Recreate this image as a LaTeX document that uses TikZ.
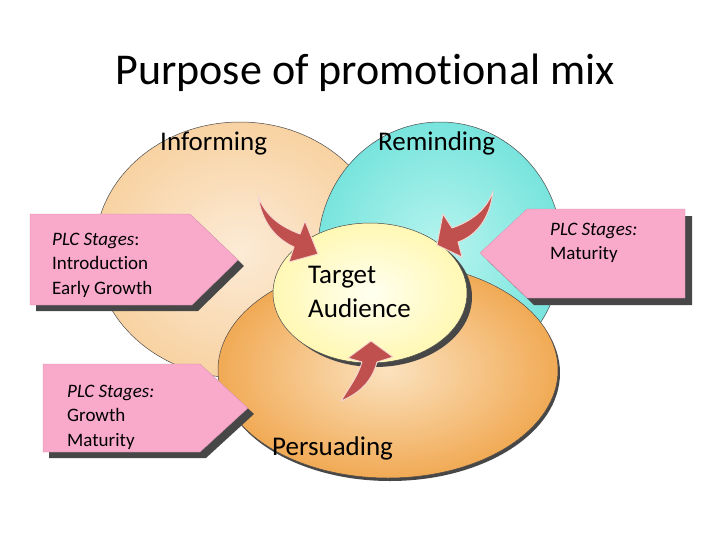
\documentclass[tikz,border=0pt]{standalone}
\usepackage{fontspec}
\setmainfont{Carlito}[RawFeature={-liga;-calt;-dlig}]
\usetikzlibrary{shapes.geometric}
\definecolor{peachin}{HTML}{FCEBD6}
\definecolor{peachout}{HTML}{F8D2A2}
\definecolor{cyanin}{HTML}{B8F4EF}
\definecolor{cyanout}{HTML}{78E4DD}
\definecolor{orangein}{HTML}{FBE2BF}
\definecolor{orangeout}{HTML}{F1AA55}
\definecolor{yellowin}{HTML}{FFFFF0}
\definecolor{yellowout}{HTML}{FFF8B4}
\definecolor{boxpink}{HTML}{F9A9CA}
\definecolor{arrowred}{HTML}{C0504D}
\definecolor{arrowedge}{HTML}{F6D8D2}
\begin{document}
\begin{tikzpicture}[x=1pt,y=-1pt]
\tikzset{
  ell/.style={ellipse, draw=black!70, line width=0.5pt, inner sep=0pt},
  ellshadow/.style={ellipse, fill=black!72, draw=none, inner sep=0pt},
  pinkbox/.style={fill=boxpink, draw=boxpink!85!black, line width=0.3pt},
  boxshadow/.style={fill=black!72, draw=none},
  redarrow/.style={fill=arrowred, draw=arrowedge, line width=0.9pt, line join=round},
  lbl/.style={font=\fontsize{27}{34}\selectfont, inner sep=0pt, anchor=base west},
  boxtxt/.style={font=\fontsize{19}{24.5}\selectfont, align=left, inner sep=0pt, anchor=north west},
}
\useasboundingbox (0,0) rectangle (728,546);
\fill[white] (0,0) rectangle (728,546);

% title
\node[font=\fontsize{44}{52}\selectfont, anchor=base, inner sep=0pt] (title) at (365,84) {Purpose of promot\kern0pt ional mix};

% ellipses
\node[ell, minimum width=290, minimum height=256, shade, inner color=peachin, outer color=peachout] (inform) at (240,250) {};
\node[ell, minimum width=244, minimum height=256, shade, inner color=cyanin, outer color=cyanout] (remind) at (440,250) {};
\node[ellshadow, minimum width=340, minimum height=216] (persshadow) at (390,373) {};
\node[ell, minimum width=340, minimum height=216, shade, inner color=orangein, outer color=orangeout] (persuade) at (388,370) {};
\node[ellshadow, minimum width=194, minimum height=140] (targshadow) at (375,297) {};
\node[ell, minimum width=194, minimum height=140, shade, inner color=yellowin, outer color=yellowout] (target) at (370,293) {};

% labels
\node[lbl] (linform) at (160,150) {Informing};
\node[lbl] (lremind) at (378,150) {Reminding};
\node[lbl] (lpers) at (272,455) {Persuading};
\node[lbl, align=left, anchor=north west] (ltarget) at (308,265.6) {Target\\Audience};

% red curved arrows
\path[redarrow] (258,196) .. controls (262,222) and (275,238) .. (294,247)
  -- (289,262) -- (318,254) -- (305,221) -- (300,234)
  .. controls (284,228) and (266,218) .. (258,196) -- cycle;
\path[redarrow] (493,191) .. controls (490,220) and (475,236) .. (458,242)
  -- (462,257) -- (437,245) -- (443,214) -- (452,228)
  .. controls (470,222) and (487,210) .. (493,191) -- cycle;
\path[redarrow] (341,401) .. controls (350,386) and (358,376) .. (362,362)
  -- (348,358) -- (371,341) -- (393,357) -- (377,362)
  .. controls (372,381) and (360,393) .. (341,401) -- cycle;

% pink boxes with shadows
\path[boxshadow] (36,220) -- (196,220) -- (244,266) -- (198,311) -- (36,311) -- cycle;
\path[pinkbox] (30,214) -- (190,214) -- (238,260) -- (192,305) -- (30,305) -- cycle;
\node[boxtxt] (box1) at (52,232.6) {\textit{PLC Stages}:\\Introduction\\Early Growth};

\path[boxshadow] (487,260) -- (534,216) -- (692,216) -- (692,305) -- (534,305) -- cycle;
\path[pinkbox] (480,253) -- (527,209) -- (685,209) -- (685,298) -- (527,298) -- cycle;
\node[boxtxt] (box2) at (550,222.6) {\textit{PLC Stages:}\\Maturity};

\path[boxshadow] (49,370) -- (206,370) -- (254,414) -- (206,458) -- (49,458) -- cycle;
\path[pinkbox] (43,364) -- (200,364) -- (248,408) -- (200,452) -- (43,452) -- cycle;
\node[boxtxt] (box3) at (67,384.6) {\textit{PLC Stages:}\\Growth\\Maturity};
\end{tikzpicture}
\end{document}
